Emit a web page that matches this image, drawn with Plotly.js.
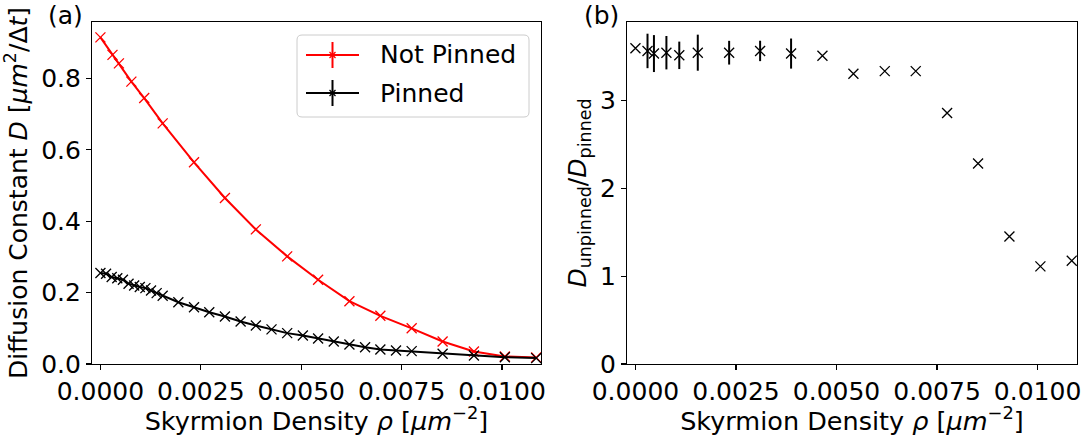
<!DOCTYPE html>
<html>
<head>
<meta charset="utf-8">
<script src="https://cdn.plot.ly/plotly-3.0.1.min.js"></script>
<style>html,body{margin:0;padding:0;background:#fff;}#chart{width:1089px;height:436px;}</style>
</head>
<body>
<div id="chart"></div>
<script>
// ---- data ----
const rhoUnpinned = [0, 0.0003, 0.00046, 0.00077, 0.00109, 0.00155, 0.00233, 0.0031, 0.00387, 0.00465, 0.00542, 0.0062, 0.00697, 0.00775, 0.00852, 0.0093, 0.01007, 0.01085];
const dUnpinned   = [0.915, 0.866, 0.842, 0.791, 0.745, 0.674, 0.565, 0.465, 0.377, 0.3015, 0.236, 0.176, 0.135, 0.100, 0.063, 0.035, 0.021, 0.018];

const rhoPinned = [0, 0.00014, 0.00028, 0.00042, 0.00056, 0.0007, 0.00084, 0.00098, 0.00112, 0.00126, 0.0014, 0.00155, 0.00194, 0.00233, 0.00271, 0.0031, 0.00349, 0.00387, 0.00426, 0.00465, 0.00504, 0.00542, 0.00581, 0.0062, 0.00659, 0.00697, 0.00736, 0.00775, 0.00852, 0.0093, 0.01007, 0.01085];
const dPinned   = [0.2547, 0.253, 0.2435, 0.240, 0.236, 0.225, 0.220, 0.2155, 0.2126, 0.206, 0.1986, 0.191, 0.173, 0.159, 0.145, 0.133, 0.119, 0.108, 0.097, 0.0865, 0.080, 0.0715, 0.063, 0.0547, 0.047, 0.0407, 0.0379, 0.036, 0.0286, 0.0238, 0.019, 0.0165];

const rhoRatio = rhoUnpinned;
const ratio    = [3.59, 3.56, 3.53, 3.54, 3.51, 3.54, 3.54, 3.56, 3.53, 3.505, 3.30, 3.33, 3.33, 2.855, 2.28, 1.45, 1.11, 1.175];
const ratioErr = [0, 0.196, 0.21, 0.19, 0.156, 0.205, 0.135, 0.116, 0.171, 0, 0, 0, 0, 0, 0, 0, 0, 0];

const xTicks = [0, 0.0025, 0.005, 0.0075, 0.01];
const xTickText = ["0.0000", "0.0025", "0.0050", "0.0075", "0.0100"];
const yTicksA = [0, 0.2, 0.4, 0.6, 0.8];
const yTicksB = [0, 1, 2, 3];
const legendNames = ["Not Pinned", "Pinned"];
const colUnpinned = "#ff0000", colPinned = "#000000";

const FONT = "DejaVu Sans, sans-serif";
const FS = 25;

const traces = [
  {x: rhoUnpinned, y: dUnpinned, xaxis: "x", yaxis: "y", mode: "lines+markers", name: legendNames[0],
   line: {color: colUnpinned, width: 2}, marker: {symbol: "x-thin", size: 10, line: {color: colUnpinned, width: 1.3}}},
  {x: rhoPinned, y: dPinned, xaxis: "x", yaxis: "y", mode: "lines+markers", name: legendNames[1],
   line: {color: colPinned, width: 2}, marker: {symbol: "x-thin", size: 10, line: {color: colPinned, width: 1.3}}},
  {x: rhoRatio, y: ratio, xaxis: "x2", yaxis: "y2", mode: "markers",
   error_y: {type: "data", array: ratioErr, visible: true, color: "#000", thickness: 2, width: 0},
   marker: {symbol: "x-thin", size: 10, color: "#000", line: {color: "#000", width: 1.3}}}
];

const L = 92, R = 12, T = 22, B = 72;
const W = 1089, H = 436;
const pw = W - L - R, ph = H - T - B;
const px = v => (v - L) / pw;          // pixel -> paper x
const py = v => (H - B - v) / ph;      // pixel -> paper y

const axCommon = {
  showline: true, mirror: true, linecolor: "#000", linewidth: 1.1,
  ticks: "outside", ticklen: 5, tickwidth: 1.1, tickcolor: "#000",
  showgrid: false, zeroline: false,
  tickfont: {family: FONT, size: FS, color: "#000"}
};

const xTitle = {text: "Skyrmion Density <i>ρ</i> [<i>μm</i><sup>−2</sup>]", font: {family: FONT, size: 25.5, color: "#000"}, standoff: 8};

// legend decoration
const lg = {x0: 297, x1: 529, y0: 35, y1: 117, r: 5};
function roundRect(b) {
  const rx = b.r / pw, ry = b.r / ph;
  const X0 = px(b.x0), X1 = px(b.x1), Y0 = py(b.y1), Y1 = py(b.y0);
  return `M ${X0+rx},${Y1} L ${X1-rx},${Y1} Q ${X1},${Y1} ${X1},${Y1-ry} L ${X1},${Y0+ry} Q ${X1},${Y0} ${X1-rx},${Y0} L ${X0+rx},${Y0} Q ${X0},${Y0} ${X0},${Y0+ry} L ${X0},${Y1-ry} Q ${X0},${Y1} ${X0+rx},${Y1} Z`;
}
const shapes = [
  {type: "path", xref: "paper", yref: "paper", path: roundRect(lg), line: {color: "#cccccc", width: 1}, fillcolor: "rgba(255,255,255,0.8)"}
];
const annotations = [];
const legendRows = [{y: 55, c: colUnpinned, t: legendNames[0]}, {y: 93, c: colPinned, t: legendNames[1]}];
legendRows.forEach(rw => {
  shapes.push({type: "line", xref: "paper", yref: "paper", x0: px(306), x1: px(359), y0: py(rw.y), y1: py(rw.y), line: {color: rw.c, width: 2}});
  shapes.push({type: "line", xref: "paper", yref: "paper", x0: px(332.5), x1: px(332.5), y0: py(rw.y - 13), y1: py(rw.y + 13), line: {color: rw.c, width: 2}});
  shapes.push({type: "line", xref: "paper", yref: "paper", x0: px(329.5), x1: px(335.5), y0: py(rw.y - 3), y1: py(rw.y + 3), line: {color: rw.c, width: 1.3}});
  shapes.push({type: "line", xref: "paper", yref: "paper", x0: px(329.5), x1: px(335.5), y0: py(rw.y + 3), y1: py(rw.y - 3), line: {color: rw.c, width: 1.3}});
  annotations.push({xref: "paper", yref: "paper", x: px(378), y: py(rw.y), xanchor: "left", yanchor: "middle", showarrow: false,
    text: rw.t, font: {family: FONT, size: FS, color: "#000"}});
});
annotations.push({xref: "paper", yref: "paper", x: px(65), y: py(15), xanchor: "center", yanchor: "middle", showarrow: false, text: "(a)", font: {family: FONT, size: FS, color: "#000"}});
annotations.push({xref: "paper", yref: "paper", x: px(601), y: py(15), xanchor: "center", yanchor: "middle", showarrow: false, text: "(b)", font: {family: FONT, size: FS, color: "#000"}});

const layout = {
  width: W, height: H,
  margin: {l: L, r: R, t: T, b: B},
  paper_bgcolor: "#fff", plot_bgcolor: "#fff",
  showlegend: false,
  font: {family: FONT, size: FS, color: "#000"},
  xaxis: Object.assign({}, axCommon, {domain: [0, px(541)], range: [-0.00021, 0.01097], tickvals: xTicks, ticktext: xTickText, title: xTitle, anchor: "y"}),
  yaxis: Object.assign({}, axCommon, {domain: [0, 1], range: [0, 0.958], tickvals: yTicksA, ticktext: yTicksA.map(v => v.toFixed(1)),
    title: {text: "Diffusion Constant <i>D</i> [<i>μm</i><sup>2</sup>/Δ<i>t</i>]", font: {family: FONT, size: FS, color: "#000"}, standoff: 6}, anchor: "x"}),
  xaxis2: Object.assign({}, axCommon, {domain: [px(627), 1], range: [-0.00021, 0.01098], tickvals: xTicks, ticktext: xTickText, title: xTitle, anchor: "y2"}),
  yaxis2: Object.assign({}, axCommon, {domain: [0, 1], range: [0, 3.889], tickvals: yTicksB, ticktext: yTicksB.map(String),
    title: {text: "<i>D</i><sub>unpinned</sub>/<i>D</i><sub>pinned</sub>", font: {family: FONT, size: FS, color: "#000"}, standoff: 6}, anchor: "x2"}),
  shapes: shapes,
  annotations: annotations
};

Plotly.newPlot("chart", traces, layout, {staticPlot: true, displayModeBar: false});
</script>
</body>
</html>
